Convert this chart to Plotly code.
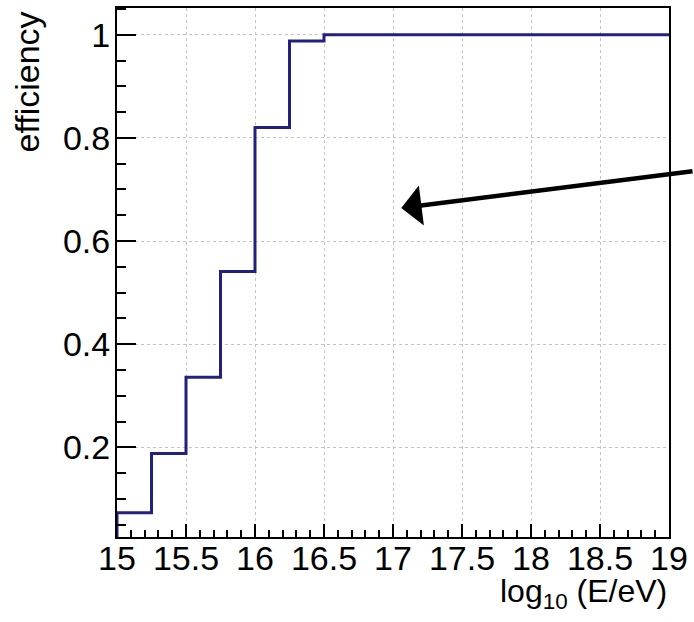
import plotly.graph_objects as go

# bin edges (log10 E/eV) and efficiency per bin
bin_edges = [15.0, 15.25, 15.5, 15.75, 16.0, 16.25, 16.5, 16.75, 17.0, 17.25,
             17.5, 17.75, 18.0, 18.25, 18.5, 18.75, 19.0]
efficiency = [0.073, 0.188, 0.336, 0.541, 0.820, 0.988, 1.0, 1.0, 1.0, 1.0,
              1.0, 1.0, 1.0, 1.0, 1.0, 1.0]

y_range = [0.026, 1.052]
x_range = [15, 19]

# step outline: start at the base of first bin, end at last edge
xs = [bin_edges[0]] + bin_edges[:-1] + [bin_edges[-1]]
ys = [y_range[0]] + efficiency + [efficiency[-1]]

FONT = "Liberation Sans, Arial, Helvetica, sans-serif"
FS = 34

fig = go.Figure()
fig.add_trace(go.Scatter(x=xs, y=ys, mode="lines", line_shape="hv",
                         line=dict(color="#22227e", width=3),
                         showlegend=False, hoverinfo="skip"))

axis_common = dict(
    showline=True, linecolor="black", linewidth=2, mirror=True,
    ticks="inside", tickcolor="black", tickwidth=2,
    showgrid=True, gridcolor="#c4c4c4", griddash="dot", gridwidth=1,
    zeroline=False,
    tickfont=dict(family=FONT, size=FS, color="black"),
)

fig.update_xaxes(range=x_range, dtick=0.5, tick0=15, ticklen=13,
                 ticklabelstandoff=-10,
                 minor=dict(dtick=0.1, ticklen=7, ticks="inside",
                            tickcolor="black", tickwidth=1.5, showgrid=False),
                 **axis_common)
fig.update_yaxes(range=y_range, dtick=0.2, tick0=0, ticklen=19,
                 ticklabelstandoff=-2,
                 minor=dict(dtick=0.05, ticklen=9, ticks="inside",
                            tickcolor="black", tickwidth=1.5, showgrid=False),
                 **axis_common)

fig.add_annotation(text="log<sub>10</sub> (E/eV)", xref="paper", yref="paper",
                   x=1, y=0, xanchor="right", yanchor="top", yshift=-34,
                   showarrow=False, font=dict(family=FONT, size=32, color="black"))
fig.add_annotation(text="efficiency", xref="paper", yref="paper",
                   x=0, y=1, xanchor="center", yanchor="top", xshift=-91, yshift=-2,
                   textangle=-90, showarrow=False,
                   font=dict(family=FONT, size=FS, color="black"))

# arrow pointing into the plot
fig.add_annotation(text="", x=17.06, y=0.664, xref="x", yref="y",
                   showarrow=True, ax=300, ay=-37, axref="pixel", ayref="pixel",
                   arrowhead=1, arrowsize=1.5, arrowwidth=4.5, arrowcolor="black")

fig.update_layout(width=694, height=622,
                  margin=dict(l=117, r=19, t=6, b=85),
                  paper_bgcolor="white", plot_bgcolor="white")

fig.write_html("out.html")
